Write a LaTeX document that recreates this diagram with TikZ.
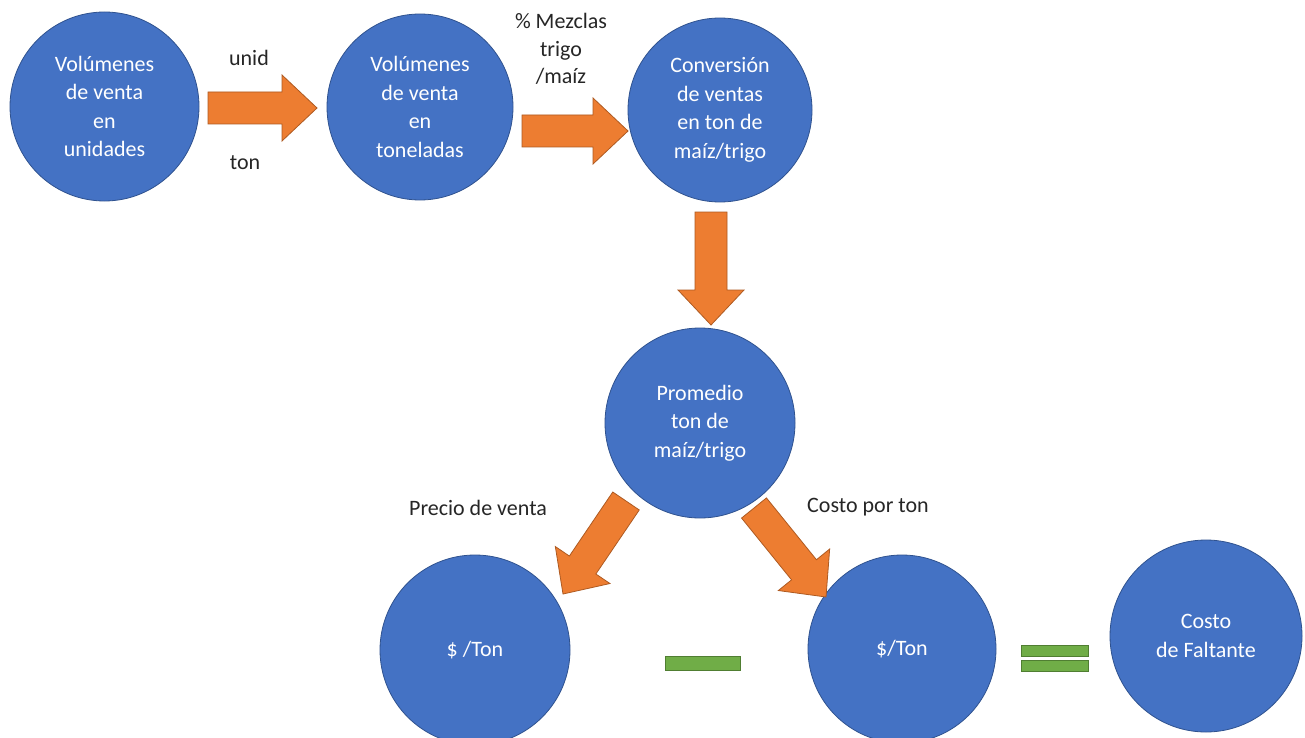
\documentclass[tikz,border=0pt]{standalone}
\usepackage{fontspec}
\setmainfont{Carlito}
\usetikzlibrary{calc}
\definecolor{cblue}{HTML}{4472C4}
\definecolor{cblueb}{HTML}{2F528F}
\definecolor{corange}{HTML}{ED7D31}
\definecolor{coranb}{HTML}{AE5A21}
\definecolor{cgreen}{HTML}{70AD47}
\definecolor{cgreenb}{HTML}{507E32}
\newcommand\blkarrow[2]{%
  \coordinate (bh) at ($(#2)!35pt!(#1)$);
  \draw[blk] ($(#1)!16pt!90:(#2)$) -- ($(bh)!16pt!-90:(#1)$) -- ($(bh)!33pt!-90:(#1)$) -- (#2)
    -- ($(bh)!33pt!90:(#1)$) -- ($(bh)!16pt!90:(#1)$) -- ($(#1)!16pt!-90:(#2)$) -- cycle;}
\begin{document}
\begin{tikzpicture}[x=1pt,y=-1pt,
  bubble/.style={circle,fill=cblue,draw=cblueb,line width=0.8pt,inner sep=0pt,align=center,
    text=white,font=\fontsize{22}{28.5}\selectfont},
  lbl/.style={align=center,text=black!85,font=\fontsize{22}{27.5}\selectfont,inner sep=0pt},
  blk/.style={fill=corange,draw=coranb,line width=0.8pt,line join=miter},
  bar/.style={fill=cgreen,draw=cgreenb,line width=0.8pt}]
\useasboundingbox (0,0) rectangle (1305,738);
\fill[white] (0,0) rectangle (1305,738);
% circles
\node[bubble,minimum size=189pt] (c1) at (104.5,106.5) {Volúmenes\\de venta\\en\\unidades};
\node[bubble,minimum size=186pt] (c2) at (420,107) {Volúmenes\\de venta\\en\\toneladas};
\node[bubble,minimum size=184pt] (c3) at (720,110) {Conversión\\de ventas\\en ton de\\maíz/trigo};
\node[bubble,minimum size=190pt] (c4) at (700,423) {Promedio\\ton de\\maíz/trigo};
\node[bubble,minimum size=190pt] (c5) at (475,650) {\$ /Ton};
\node[bubble,minimum size=188pt] (c6) at (902,649) {\$/Ton};
\node[bubble,minimum size=192pt] (c7) at (1206,636) {Costo\\de Faltante};
% arrow end points
\coordinate (a1s) at (208,108);  \coordinate (a1e) at (317,108);
\coordinate (a2s) at (522,131);  \coordinate (a2e) at (628,131);
\coordinate (a3s) at (711,212);  \coordinate (a3e) at (711,325);
\coordinate (a4s) at (626,501);  \coordinate (a4e) at (563,594);
\coordinate (a5s) at (754,508);  \coordinate (a5e) at (826,597);
\blkarrow{a1s}{a1e}
\blkarrow{a2s}{a2e}
\blkarrow{a3s}{a3e}
\blkarrow{a4s}{a4e}
\blkarrow{a5s}{a5e}
% labels
\node[lbl] (l1) at (249,58) {unid};
\node[lbl] (l2) at (245,163) {ton};
\node[lbl] (l3) at (561,49) {\% Mezclas\\trigo\\/maíz};
\node[lbl] (l4) at (478,508) {Precio de venta};
\node[lbl] (l5) at (868,507) {Costo por ton};
% operators
\path[bar] (665,656) rectangle (740,670);
\path[bar] (1021,645) rectangle (1088,656);
\path[bar] (1021,660) rectangle (1088,671);
\end{tikzpicture}
\end{document}
